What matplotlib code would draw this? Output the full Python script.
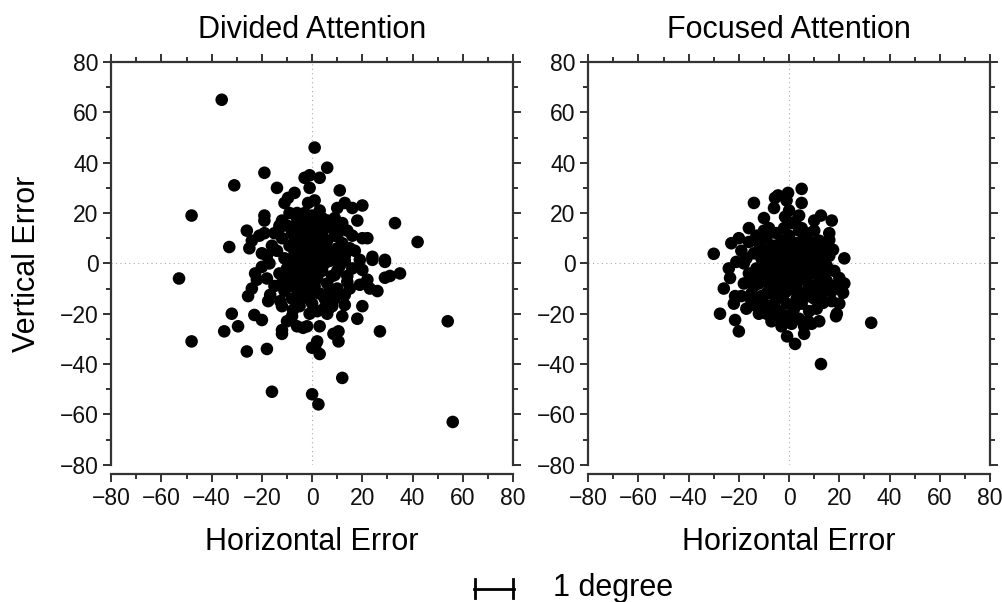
import matplotlib
matplotlib.use('Agg')
import matplotlib.pyplot as plt
from matplotlib.ticker import MultipleLocator
from matplotlib.lines import Line2D

plt.rcParams['font.family'] = ['Liberation Sans', 'DejaVu Sans']

# divided attention: (horizontal error, vertical error)
divided_x = [
    -36, 1, 6, 3, -1, -3, -19, -31, -14, -7, -9.6, -1, -1.6, 11, 1, 13, 20, 16, 10, 33,
    42, 18, 11, 20, 16, 24, 29, 19, 5, 13, 2,
    -48, -19, -19, -11, -6, -26, -19, -21, -13, -12, -33, -25, -24, -18,
    -53, -25.5, -24, -32, -23, -20, -29.5, -35, -48, -26, -18, -12, -12, -10, -3.6, -7.6,
    -12.7, -17.5, -16.7, -22, -22.7, -20, -12.7, -5.6, 0,
    35, 29, 31, 29, 24, 26, 22, 19, 20, 18, 27, 13, 12, 10.5, 10.5, 8.5, 2, 1.2, 3, 12,
    7, 5, -2, 14, 10, 13, 9, 20,
    54, 56, 0, 2.5, -16,
    -10, -8, -6, -4, -2, 0, 2, 4, 6, 8, 10, 12, -12, -9, -7, -5, -3, -1, 1, 3,
    5, 7, 9, 11, -14, -11, -9, -6, -4, -2, 0, 2, 4, 6, 8, 10, -13, -10, -8, -5,
    -3, -1, 1, 3, 5, 7, 9, -15, -11, -8, -6, -3, 0, 3, 6, 9, -9, 12, 14, 15,
    16, 14, -17, -16, -13, -7, -5, -2, 1, 3, 5, 7, -1, 2, 4, -4, -7, 13, 11, -10,
    -12, -5, 0, 2, 6, -8, -15, 8, -3, 0, 4, 10, -1, 17, 22, 23, -20, -18, 15, -6, 3,
    -5, -1, 3, 7, -8, 1, 5, 9, -3, -11, 6, 0,
]
divided_y = [
    65, 46, 38, 34, 35, 34, 36, 31, 30, 28, 26, 30, 24, 29, 25, 24, 23, 22, 22, 16,
    8.5, 17, 14, 10, 11, 2.6, 1.4, 1.4, 6.5, 3, 18,
    19, 19, 17, 24, 20, 13, 12, 11, 14, 17, 6.5, 6, 9, 3,
    -6, -13, -10, -20, -20.5, -22.5, -25, -27, -31, -35, -34, -26.5, -28, -23, -25.6, -18.5,
    -15, -15, -12.5, -6.5, -4, -1.4, -8.5, -11.7, -33.5,
    -4, -5.7, -5, 0.6, 1.4, -11, -6.5, -8.5, -17, -22, -27, -16.5, -21, -27, -31, -28, -31, -33, -36, -45.5,
    -17.6, -17.6, -25, -7.3, -10, -12.5, -4.6, -2.6,
    -23, -63, -52, -56, -51,
    15, 12, 16, 14, 10, 13, 15, 12, 9, 14, 11, 8, 10, 7, 4, 8, 5, 2, 6, 3,
    0, 5, 2, -1, 5, 2, -1, -3, 0, -5, -2, -6, -3, -8, -5, -3, -4, -6, -9, -7,
    -10, -13, -9, -12, -14, -11, -14, -9, -11, -14, 18, 20, 19, 21, 17, 18, 20, 16, 13, 6,
    -2, -5, 0, 7, 15, 10, 2, 7, 10, 8, 15, 1, -7, -1, 5, -14, -5, 1, 4, -2,
    -17, -17, -16, -19, -20, -21, 12, -17, 16, 7, 18, 6, -20, 5, 10, -10, 4, -6, -10, -25, -25,
    11, 17, 10, 16, 1, 4, 1, 11, -2, -8, 4, -11,
]

# focused attention
focused_x = [
    -30, -14, -5.6, -4.4, -0.4, 5, 12.7, 17, -23, 22, -26, -27.5, -20, -21.5, -0.8, 2.4, 6, 18.7, 32.7, 12.7,
    21.5, 20, -1.6, 2.4, 5, -10, -16, -21, -23.5, -21.5, 8.4, 16, 17.5, 13.5, 7.6, -7.6, -14,
    -12, -9, -6, -3, 0, 3, 6, 9, 12, -14, -11, -8, -5, -2, 1, 4, 7, 10, 13,
    -13, -10, -7, -4, -1, 2, 5, 8, 11, 14, -12, -9, -6, -3, 0, 3, 6, 9, 12, -11,
    -8, -5, -2, 1, 4, 7, 10, -7, -4, -1, 2, 5, 8, -10, 11, -16, -17, -15, 15, 16,
    14, -2, 1, 4, -5, -8, 7, 10, -13, -18, -19, 18, -1, 2, -3, 0, 3, -6, 6, -9,
    9, -4, 5, -7, 8, -11, 11, -2, 1, 4, -5, 7, -8, 10, -1, 3, -12, 13, -15, -19,
    18, 20, -3, 1, 9, -16, -10, 0, 4, 10, -20, 16, -24, 22, -6, 12, 0, -14, 14, -17,
    17, -22, 19, 5, -1, -7, 6,
    -10, -6, -2, 2, 6, 10, -12, -8, -4, 0, 4, 8, 12, -9, -5, -1, 3, 7, 11, -14,
    -7, -3, 1, 5, 9, -11, -6, 2, 8, -16, 15, -13, -9, 13, 17, -18, -4, 4,
]
focused_y = [
    3.8, 24, 26, 27, 28, 29.6, 19, 17, 8, 2, -10, -20, -27, -22.5, -29, -32, -28, -21, -23.6, -40,
    -11.7, -5.8, 18.5, 16.5, 14, 13, 8.5, 0.6, -5.8, -13, 8.5, 9.3, 5.4, -15.7, -23, -19.6, -16.5,
    8, 10, 7, 9, 11, 8, 10, 7, 9, 4, 2, 5, 3, 5, 3, 5, 2, 4, 1,
    -2, -4, -1, -3, -1, -2, -4, -1, -3, -5, -8, -6, -9, -7, -5, -8, -6, -9, -7, -13,
    -11, -14, -12, -10, -13, -11, -14, -17, -19, -16, -18, -16, -19, -16, -18, -4, 2, -12, -1, 3,
    -11, 14, 16, 13, 12, 14, 12, 13, 11, -8, 5, -3, 6, 1, 0, -8, -14, -4, 0, 0,
    -4, 6, 7, 3, 4, 6, 8, -3, -3, -1, -6, -7, -8, -10, -21, -22, -20, -14, -15, -13,
    -9, -16, -25, -24, -24, 14, 18, 21, 19, 17, 10, 12, -2, -8, 22, -23, 0, -8, 6, -18,
    -15, -16, -20, 24, 25, -23, -25,
    1, 0, 2, 0, 1, -1, -5, -3, -6, -3, -5, -3, -10, -12, -10, -11, -10, -13, -12, -9,
    6, 3, 7, 2, 1, 9, -16, 5, -13, -7, -7, -17, -20, 5, -11, 0, -22, -22,
]

x_ticks = [-80, -60, -40, -20, 0, 20, 40, 60, 80]
y_ticks = [-80, -60, -40, -20, 0, 20, 40, 60, 80]

fig = plt.figure(figsize=(10.02, 6.02), dpi=100)

panels = [
    ('Divided Attention', divided_x, divided_y, 0.111, True),
    ('Focused Attention', focused_x, focused_y, 0.587, False),
]

for title, xs, ys, left, show_ylabel in panels:
    ax = fig.add_axes([left, 0.228, 0.401, 0.669])
    ax.axhline(0, color='#aaaaaa', lw=0.8, ls=(0, (1, 3)), zorder=0)
    ax.axvline(0, color='#aaaaaa', lw=0.8, ls=(0, (1, 3)), zorder=0)
    ax.scatter(xs, ys, s=82, c='black', edgecolors='none', zorder=3, clip_on=False)
    ax.set_xlim(-80, 80)
    ax.set_ylim(-80, 80)
    ax.set_xticks(x_ticks)
    ax.set_yticks(y_ticks)
    ax.xaxis.set_minor_locator(MultipleLocator(10))
    ax.yaxis.set_minor_locator(MultipleLocator(10))
    ax.tick_params(which='both', direction='out', top=True, right=True,
                   width=1.3, color='#222222', labelsize=16.5, labelcolor='#111111')
    ax.tick_params(which='major', length=6, pad=3)
    ax.tick_params(which='minor', length=3.5)
    for side in ['left', 'right', 'top', 'bottom']:
        ax.spines[side].set_linewidth(1.6)
        ax.spines[side].set_color('#333333')
    ax.spines['bottom'].set_position(('outward', 7))
    ax.set_title(title, fontsize=22, pad=17)
    ax.set_xlabel('Horizontal Error', fontsize=22, labelpad=12)
    if show_ylabel:
        ax.set_ylabel('Vertical Error', fontsize=22, labelpad=13)

# scale bar
fig.add_artist(Line2D([0.473, 0.513], [0.022, 0.022], color='black', lw=2))
fig.add_artist(Line2D([0.474, 0.474], [0.007, 0.039], color='black', lw=2))
fig.add_artist(Line2D([0.512, 0.512], [0.007, 0.039], color='black', lw=2))
fig.text(0.552, 0.010, '1 degree', fontsize=22, va='baseline', ha='left')

fig.savefig('out.png', dpi=100, facecolor='white')
